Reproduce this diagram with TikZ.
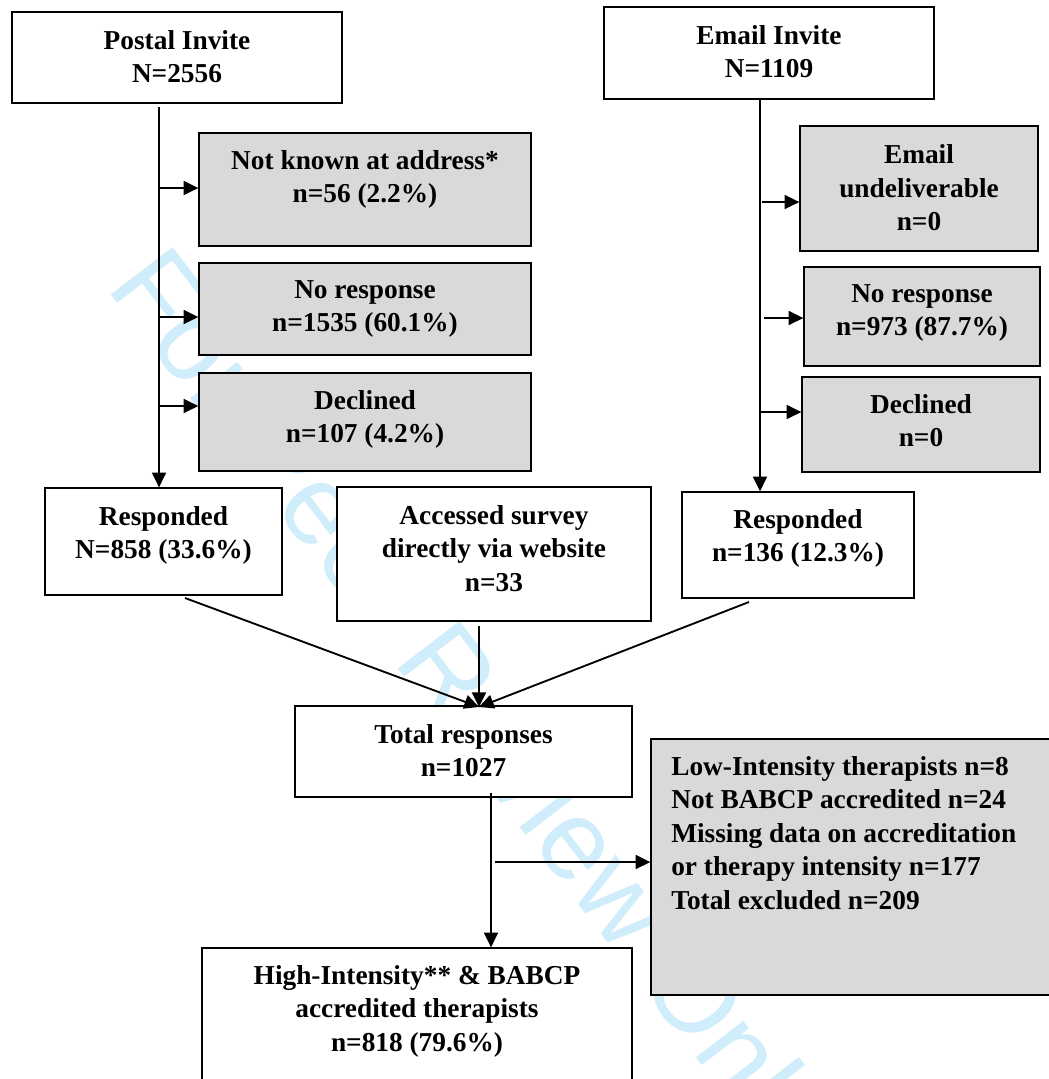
\documentclass[tikz,border=0pt]{standalone}
\usepackage{fontspec}
\setmainfont{Liberation Serif}
\newfontfamily\wmfont{Liberation Sans}
\usetikzlibrary{arrows.meta,fit}
\definecolor{boxgray}{RGB}{217,217,217}
\definecolor{wmblue}{RGB}{208,237,252}
\begin{document}
\begin{tikzpicture}[x=0.75pt,y=-0.75pt,
  box/.style={draw=black, line width=1pt, fill=white, inner sep=0pt},
  gbox/.style={box, fill=boxgray},
  txt/.style={font=\bfseries\fontsize{20.5}{25.1}\selectfont, align=center, inner sep=0pt, anchor=north, execute at begin node=\strut},
  ltxt/.style={txt, align=left, anchor=north west},
  conn/.style={line width=1.4pt, -{Triangle[length=11pt,width=10.5pt]}},
  wm/.style={text=wmblue, font=\wmfont\fontsize{85}{85}\selectfont, inner sep=0pt}
  ]
\useasboundingbox (0,0) rectangle (1049,1079);
\clip (0,0) rectangle (1049,1079);
% watermark
\node[wm, rotate=-52.5, anchor=base west] (wmark) at (105,287) {For Peer Review Only};
% boxes
\node[box,  fit={(12,12) (342,103)}] (pi) {};
\node[gbox, fit={(199,133) (531,246)}] (nk) {};
\node[gbox, fit={(199,263) (531,355)}] (nr1) {};
\node[gbox, fit={(199,373) (531,471)}] (dc1) {};
\node[box,  fit={(604,7) (934,99)}] (ei) {};
\node[gbox, fit={(800,126) (1038,251)}] (eu) {};
\node[gbox, fit={(804,267) (1040,366)}] (nr2) {};
\node[gbox, fit={(802,377) (1040,472)}] (dc2) {};
\node[box,  fit={(45,488) (282,595)}] (r1) {};
\node[box,  fit={(337,487) (651,621)}] (acc) {};
\node[box,  fit={(682,492) (914,598)}] (r2) {};
\node[box,  fit={(295,706) (632,797)}] (tot) {};
\node[gbox, fit={(651,739) (1070,995)}] (exc) {};
\node[box,  fit={(202,948) (632,1100)}] (hi) {};
% texts
\node[txt] (tpi) at (177,30) {Postal Invite\\N=2556};
\node[txt] (tnk) at (365,150) {Not known at address*\\n=56 (2.2\%)};
\node[txt] (tnr1) at (365,280) {No response\\n=1535 (60.1\%)};
\node[txt] (tdc1) at (365,390) {Declined\\n=107 (4.2\%)};
\node[txt] (tei) at (769,25) {Email Invite\\N=1109};
\node[txt] (teu) at (919,144.5) {Email\\undeliverable\\n=0};
\node[txt] (tnr2) at (922,284) {No response\\n=973 (87.7\%)};
\node[txt] (tdc2) at (921,394) {Declined\\n=0};
\node[txt] (tr1) at (163.5,506) {Responded\\N=858 (33.6\%)};
\node[txt] (tacc) at (494,505) {Accessed survey\\directly via website\\n=33};
\node[txt] (tr2) at (798,509) {Responded\\n=136 (12.3\%)};
\node[txt] (ttot) at (463.5,724) {Total responses\\n=1027};
\node[ltxt] (texc) at (671,756) {Low-Intensity therapists n=8\\Not BABCP accredited n=24\\Missing data on accreditation\\or therapy intensity n=177\\Total excluded n=209};
\node[txt] (thi) at (417,965) {High-Intensity** \& BABCP\\accredited therapists\\n=818 (79.6\%)};
% connector anchors
\coordinate (pv) at (159,107);
\coordinate (pa1) at (159,188);
\coordinate (pa2) at (159,317);
\coordinate (pa3) at (159,406);
\coordinate (ev) at (760,100);
\coordinate (ea1) at (762,202);
\coordinate (ea2) at (764,318);
\coordinate (ea3) at (760,412);
\coordinate (r1o) at (185,598);
\coordinate (acco) at (479,626);
\coordinate (r2o) at (749,602);
\coordinate (tin) at (479,707);
\coordinate (tv) at (491,793);
\coordinate (ta) at (495,862);
% connectors
\draw[conn] (pv) -- (pv |- r1.north);
\draw[conn] (pa1) -- (pa1 -| nk.west);
\draw[conn] (pa2) -- (pa2 -| nr1.west);
\draw[conn] (pa3) -- (pa3 -| dc1.west);
\draw[conn] (ev) -- (ev |- r2.north);
\draw[conn] (ea1) -- (ea1 -| eu.west);
\draw[conn] (ea2) -- (ea2 -| nr2.west);
\draw[conn] (ea3) -- (ea3 -| dc2.west);
\draw[conn] (r1o) -- (tin);
\draw[conn] (acco) -- (tin);
\draw[conn] (r2o) -- (tin);
\draw[conn] (tv) -- (tv |- hi.north);
\draw[conn] (ta) -- (ta -| exc.west);
\end{tikzpicture}
\end{document}
